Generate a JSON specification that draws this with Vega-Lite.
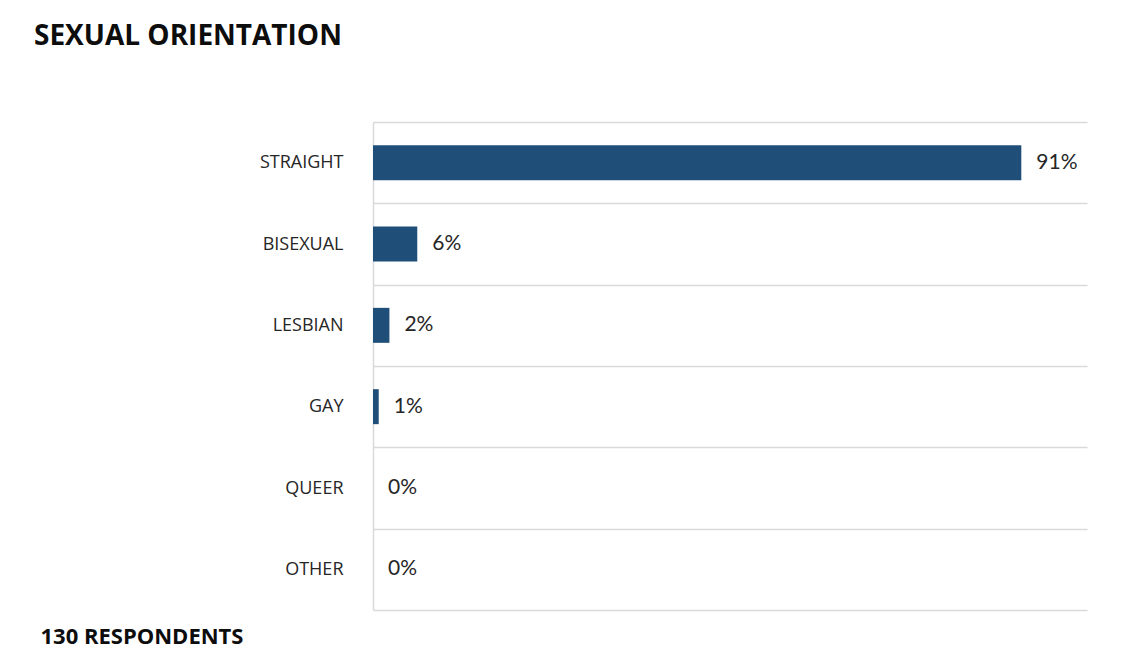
{
  "$schema": "https://vega.github.io/schema/vega-lite/v6.json",
  "autosize": "none",
  "width": 714,
  "height": 488,
  "padding": {"left": 373, "top": 122, "right": 42, "bottom": 56},
  "background": "white",
  "title": {
    "text": "SEXUAL ORIENTATION",
    "anchor": "start",
    "frame": "group",
    "dx": -339,
    "offset": 40,
    "baseline": "alphabetic",
    "font": "Open Sans",
    "fontSize": 28,
    "fontWeight": "bold",
    "color": "#0d0d0d"
  },
  "data": {
    "values": [
      {"orientation": "STRAIGHT", "share": 0.908},
      {"orientation": "BISEXUAL", "share": 0.062},
      {"orientation": "LESBIAN", "share": 0.023},
      {"orientation": "GAY", "share": 0.008},
      {"orientation": "QUEER", "share": 0},
      {"orientation": "OTHER", "share": 0}
    ]
  },
  "encoding": {
    "y": {
      "field": "orientation",
      "type": "nominal",
      "sort": null,
      "scale": {"paddingInner": 0, "paddingOuter": 0},
      "axis": {
        "title": null,
        "ticks": false,
        "domain": true,
        "domainColor": "#d9d9d9",
        "domainWidth": 1.5,
        "grid": true,
        "gridColor": "#d9d9d9",
        "gridWidth": 1.5,
        "tickBand": "extent",
        "labelFont": "Open Sans",
        "labelFontSize": 18,
        "labelColor": "#262626",
        "labelPadding": 30
      }
    },
    "x": {
      "field": "share",
      "type": "quantitative",
      "scale": {"domain": [0, 1], "nice": false},
      "axis": {
        "title": "130 RESPONDENTS",
        "labels": false,
        "ticks": false,
        "domain": false,
        "grid": false,
        "titleAnchor": "start",
        "titleAlign": "left",
        "titleX": -333,
        "titleY": 33,
        "titleBaseline": "alphabetic",
        "titleFont": "Open Sans",
        "titleFontSize": 22,
        "titleFontWeight": "bold",
        "titleColor": "#0d0d0d"
      }
    }
  },
  "layer": [
    {"mark": {"type": "bar", "color": "#1f4e79", "height": {"band": 0.43}}},
    {
      "mark": {"type": "text", "align": "left", "dx": 15, "font": "Lato", "fontSize": 21, "color": "#262626"},
      "encoding": {"text": {"field": "share", "type": "quantitative", "format": ".0%"}}
    }
  ],
  "config": {"view": {"stroke": null}}
}
